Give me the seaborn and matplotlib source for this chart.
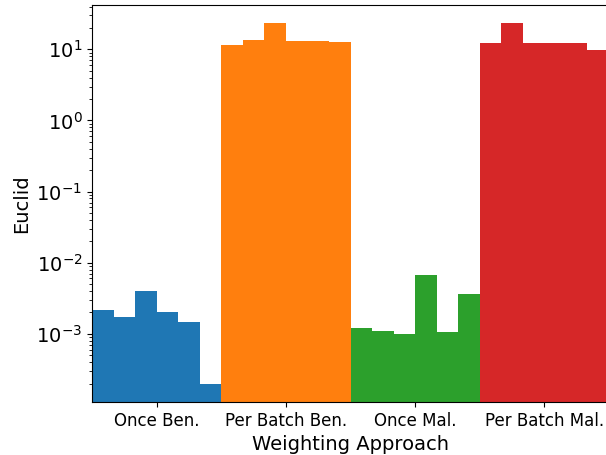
import matplotlib
matplotlib.use("Agg")
import matplotlib.pyplot as plt
import seaborn as sns
import pandas as pd

approaches = ["Once Ben.", "Per Batch Ben.", "Once Mal.", "Per Batch Mal."]
runs = [1, 2, 3, 4, 5, 6]

once_ben = [2.18e-3, 1.72e-3, 4.0e-3, 2.0e-3, 1.46e-3, 2.0e-4]
per_batch_ben = [11.5, 13.6, 23.1, 13.3, 12.9, 12.5]
once_mal = [1.22e-3, 1.09e-3, 1.0e-3, 6.8e-3, 1.06e-3, 3.58e-3]
per_batch_mal = [12.2, 23.8, 12.2, 12.2, 12.2, 9.75]

group_colors = ["#1f77b4", "#ff7f0e", "#2ca02c", "#d62728"]

rows = []
for name, vals in zip(approaches, [once_ben, per_batch_ben, once_mal, per_batch_mal]):
    for r, v in zip(runs, vals):
        rows.append({"Weighting Approach": name, "run": r, "Euclid": v})
df = pd.DataFrame(rows)

fig = plt.figure(figsize=(6.06, 4.55), dpi=100)
ax = fig.add_axes([92 / 606, 53 / 455, 517 / 606, 397 / 455])

sns.barplot(data=df, x="Weighting Approach", y="Euclid", hue="run",
            order=approaches, width=1, legend=False, ax=ax,
            errorbar=None, saturation=1)
ax.set_yscale("log")

# colour every bar by its approach group
for container in ax.containers:
    for i, bar in enumerate(container.patches):
        bar.set_facecolor(group_colors[i])
        bar.set_edgecolor("none")

ax.set_xlim(-0.5, 3.5)
ax.set_ylim(1.1e-4, 42)
ax.set_xlabel("Weighting Approach", fontsize=14)
ax.set_ylabel("Euclid", fontsize=14)
ax.tick_params(axis="x", labelsize=12)
ax.tick_params(axis="y", labelsize=14)

fig.savefig("out.png", dpi=100)
